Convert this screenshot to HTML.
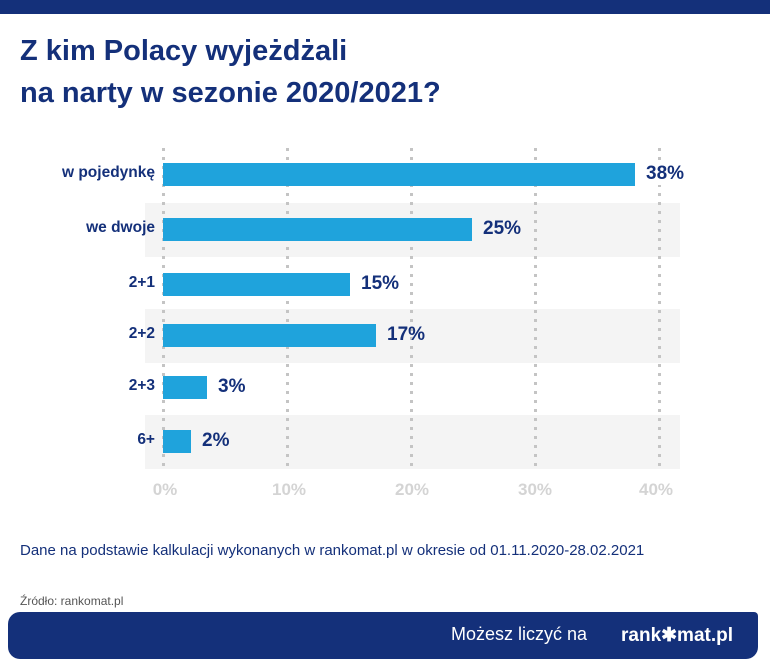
<!DOCTYPE html>
<html><head><meta charset="utf-8"><style>
body{margin:0;width:770px;height:671px;background:#fff;font-family:"Liberation Sans",sans-serif;position:relative;overflow:hidden}
.top{position:absolute;left:0;top:0;width:770px;height:14px;background:#14307a}
h1{position:absolute;left:20px;top:30px;margin:0;font-size:29px;line-height:42px;color:#14307a;font-weight:bold}
.band{position:absolute;left:145px;width:535px;height:54px;background:#f4f4f4;z-index:0}
.grid{position:absolute;top:148px;height:322px;width:3px;z-index:1;background:repeating-linear-gradient(to bottom,#c4c4c4 0 3px,transparent 3px 9px)}
.bar{position:absolute;left:163px;height:23px;background:#1fa3dc;z-index:2}
.lab{position:absolute;right:615px;font-size:15.5px;font-weight:bold;color:#14307a;text-align:right;white-space:nowrap}
.val{position:absolute;font-size:19px;font-weight:bold;color:#14307a;z-index:3;background:transparent}
.tick{position:absolute;top:480px;font-size:17px;font-weight:bold;color:#d4d4d4;width:60px;text-align:center}
.note{position:absolute;left:20px;top:542px;font-size:15px;color:#14307a}
.src{position:absolute;left:20px;top:594px;font-size:12px;color:#555}
.foot{position:absolute;left:8px;top:612px;width:750px;height:47px;background:#14307a;border-radius:12px 4px 12px 12px}
.foot span{position:absolute;top:12px;font-size:18px;color:#fff}
</style></head><body>
<div class="top"></div>
<h1>Z kim Polacy wyjeżdżali<br>na narty w sezonie 2020/2021?</h1>
<div class="band" style="top:203px"></div>
<div class="band" style="top:309px"></div>
<div class="band" style="top:415px"></div>
<div class="grid" style="left:162px"></div>
<div class="grid" style="left:286px"></div>
<div class="grid" style="left:410px"></div>
<div class="grid" style="left:534px"></div>
<div class="grid" style="left:658px"></div>
<div class="bar" style="top:163px;width:472px"></div>
<div class="bar" style="top:218px;width:309px"></div>
<div class="bar" style="top:273px;width:187px"></div>
<div class="bar" style="top:324px;width:213px"></div>
<div class="bar" style="top:376px;width:44px"></div>
<div class="bar" style="top:430px;width:28px"></div>
<div class="lab" style="top:164px">w pojedynkę</div>
<div class="lab" style="top:219px">we dwoje</div>
<div class="lab" style="top:274px">2+1</div>
<div class="lab" style="top:325px">2+2</div>
<div class="lab" style="top:377px">2+3</div>
<div class="lab" style="top:431px">6+</div>
<div class="val" style="top:163px;left:646px;background:#fff;padding-right:2px">38%</div>
<div class="val" style="top:218px;left:483px">25%</div>
<div class="val" style="top:273px;left:361px">15%</div>
<div class="val" style="top:324px;left:387px">17%</div>
<div class="val" style="top:376px;left:218px">3%</div>
<div class="val" style="top:430px;left:202px">2%</div>
<div class="tick" style="left:135px">0%</div>
<div class="tick" style="left:259px">10%</div>
<div class="tick" style="left:382px">20%</div>
<div class="tick" style="left:505px">30%</div>
<div class="tick" style="left:626px">40%</div>
<div class="note">Dane na podstawie kalkulacji wykonanych w rankomat.pl w okresie od 01.11.2020-28.02.2021</div>
<div class="src">Źródło: rankomat.pl</div>
<div class="foot"><span style="left:443px">Możesz liczyć na</span><span style="left:613px;font-weight:bold;font-size:19px">rank✱mat.pl</span></div>
</body></html>
